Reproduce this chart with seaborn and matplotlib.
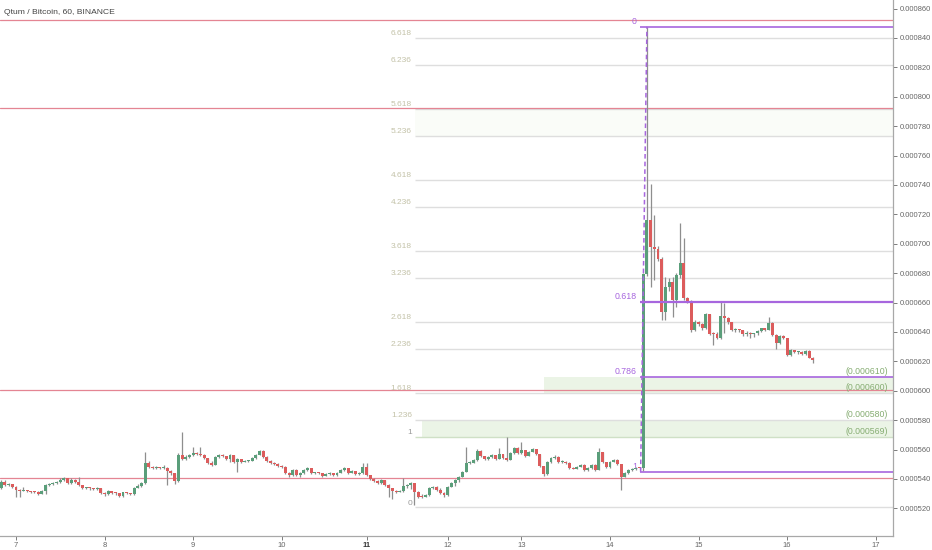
import matplotlib
matplotlib.use('Agg')
import matplotlib.pyplot as plt
import seaborn as sns
import numpy as np
from matplotlib.ticker import FormatStrFormatter, FixedLocator

# hourly candles, prices in units of 1e-6 BTC, bar index -4 .. 216
first_open = 533.6
closes = [
    538.1, 535.8, 536.8, 534.7, 532.4, 532.0, 532.6, 531.5, 531.3, 531.0,
    529.9, 532.0, 535.8, 536.3, 537.0, 537.7, 539.3, 540.4, 537.4, 539.3,
    537.7, 535.8, 534.0, 534.0, 533.6, 533.3, 533.8, 530.6, 529.7, 531.5,
    530.6, 530.2, 528.4, 530.9, 530.2, 529.7, 534.0, 535.2, 537.0, 551.0,
    548.3, 547.2, 547.7, 547.4, 547.6, 545.6, 543.8, 538.6, 556.3, 553.3,
    555.1, 556.3, 557.4, 556.8, 556.3, 554.4, 551.0, 549.5, 554.7, 556.3,
    555.6, 553.3, 556.3, 551.7, 553.3, 551.5, 552.2, 552.4, 554.0, 556.3,
    559.0, 555.1, 552.2, 550.6, 550.1, 549.0, 548.3, 543.8, 542.6, 546.1,
    542.6, 544.2, 546.1, 547.2, 544.2, 544.2, 543.8, 542.0, 543.3, 543.8,
    542.6, 544.2, 546.1, 547.2, 544.2, 545.3, 543.3, 544.2, 548.3, 542.6,
    539.7, 538.6, 537.0, 539.3, 535.8, 533.6, 532.0, 531.3, 531.5, 535.2,
    535.8, 537.0, 531.3, 527.9, 527.5, 528.9, 533.6, 534.7, 532.4, 530.2,
    529.0, 534.7, 537.0, 539.3, 541.5, 544.9, 550.6, 551.0, 552.9, 559.0,
    555.6, 553.3, 555.1, 556.3, 553.5, 556.7, 554.0, 552.9, 557.4, 561.3,
    557.4, 559.7, 555.6, 558.3, 560.1, 556.7, 548.8, 543.1, 551.3, 554.0,
    555.1, 551.3, 551.7, 551.0, 547.6, 547.0, 548.3, 549.7, 546.1, 547.6,
    549.5, 546.1, 558.1, 551.3, 548.3, 551.7, 552.9, 549.9, 541.5, 543.8,
    546.1, 546.5, 547.6, 547.2, 679.1, 716.1, 697.9, 696.3, 689.3, 653.7,
    670.7, 673.7, 661.6, 678.7, 687.0, 663.2, 661.2, 641.2, 646.9, 645.3,
    643.0, 652.1, 638.9, 638.5, 636.0, 650.8, 649.2, 646.5, 641.6, 641.6,
    641.2, 638.5, 639.4, 638.3, 639.0, 640.8, 642.4, 641.6, 646.2, 637.8,
    632.2, 637.4, 635.6, 624.2, 627.6, 626.5, 626.5, 624.7, 627.0, 622.6,
    620.8,
]
highs = [
    539.0, 539.5, 537.5, 536.5, 535.0, 533.0, 534.7, 532.6, 532.0, 531.8,
    531.5, 532.6, 536.5, 537.0, 537.7, 538.6, 540.4, 541.5, 540.8, 540.6,
    539.7, 541.2, 536.0, 534.7, 534.4, 534.0, 534.7, 534.0, 531.3, 532.4,
    531.8, 531.0, 530.6, 531.3, 531.0, 530.6, 534.7, 536.3, 537.7, 558.5,
    551.9, 548.8, 548.5, 548.0, 549.5, 548.3, 545.8, 543.8, 557.4, 571.7,
    556.0, 557.0, 561.5, 558.0, 561.9, 556.8, 554.4, 552.2, 555.3, 557.0,
    556.8, 555.6, 556.8, 556.5, 554.0, 553.5, 552.9, 553.1, 554.7, 557.0,
    559.9, 559.5, 555.6, 552.6, 551.3, 550.6, 549.5, 548.8, 545.0, 546.8,
    546.5, 544.9, 546.8, 547.9, 547.6, 545.0, 544.6, 544.0, 544.0, 544.5,
    544.2, 544.9, 546.8, 547.9, 547.6, 546.0, 545.6, 544.9, 551.0, 550.6,
    542.9, 540.4, 539.3, 540.0, 539.5, 536.5, 533.8, 532.2, 532.2, 540.4,
    536.5, 537.9, 537.4, 531.5, 529.7, 529.5, 534.2, 535.4, 535.2, 533.8,
    531.3, 535.3, 537.7, 540.0, 542.2, 545.6, 561.9, 552.0, 553.5, 560.1,
    559.5, 555.9, 555.6, 556.9, 556.5, 560.8, 557.0, 568.7, 558.1, 562.0,
    561.5, 565.3, 559.9, 559.0, 560.8, 560.5, 557.0, 549.0, 552.0, 554.7,
    556.3, 555.6, 552.6, 551.9, 551.7, 548.3, 548.8, 550.5, 550.0, 548.2,
    550.0, 549.9, 560.8, 558.5, 551.5, 552.4, 553.5, 553.5, 550.0, 544.5,
    546.8, 547.2, 548.3, 548.0, 680.0, 847.6, 740.6, 719.5, 698.4, 690.7,
    677.5, 676.4, 677.5, 679.8, 714.3, 703.6, 663.5, 662.0, 648.0, 647.5,
    646.0, 653.0, 652.5, 640.0, 640.0, 660.1, 659.4, 650.0, 647.0, 642.5,
    642.0, 641.5, 640.5, 640.0, 639.5, 641.5, 643.0, 642.6, 650.3, 646.5,
    638.5, 638.0, 638.0, 635.0, 628.5, 628.0, 627.3, 627.0, 627.8, 628.0,
    622.8,
]
lows = [
    533.0, 535.0, 535.3, 534.0, 528.0, 527.5, 531.5, 530.8, 530.6, 530.2,
    529.3, 529.5, 529.9, 535.3, 535.8, 536.5, 537.4, 538.8, 536.8, 536.5,
    537.0, 535.3, 533.5, 533.1, 532.8, 532.6, 532.8, 530.0, 528.4, 529.3,
    529.9, 529.3, 527.9, 527.9, 529.5, 529.0, 529.3, 533.6, 534.7, 536.5,
    547.5, 546.5, 546.5, 546.8, 546.8, 535.8, 543.0, 536.5, 538.1, 552.6,
    552.9, 554.4, 555.6, 556.0, 555.6, 553.8, 550.0, 548.5, 549.5, 554.4,
    554.9, 552.6, 551.7, 551.0, 544.5, 550.8, 551.3, 551.7, 551.9, 553.8,
    556.0, 554.5, 551.7, 549.9, 549.4, 548.3, 547.6, 543.1, 541.5, 541.9,
    542.0, 541.0, 543.5, 545.6, 543.5, 543.5, 543.1, 541.3, 541.9, 543.0,
    542.0, 542.0, 543.8, 545.6, 543.5, 544.0, 542.6, 543.0, 543.5, 542.0,
    539.0, 537.8, 536.3, 536.5, 535.0, 527.9, 526.3, 530.6, 530.8, 531.0,
    534.0, 533.3, 522.2, 527.0, 526.8, 527.9, 528.5, 533.0, 531.8, 529.5,
    527.5, 528.6, 534.2, 535.4, 537.8, 541.0, 544.5, 550.0, 550.6, 552.4,
    555.0, 552.6, 553.0, 554.5, 553.0, 553.3, 553.5, 552.2, 552.6, 557.0,
    556.8, 557.0, 555.0, 555.3, 558.0, 556.0, 548.0, 541.9, 542.5, 550.6,
    553.5, 550.6, 550.8, 550.4, 547.0, 546.5, 546.7, 548.0, 545.5, 545.6,
    546.8, 545.4, 546.0, 550.6, 547.6, 547.2, 551.3, 549.3, 532.4, 541.0,
    543.3, 545.6, 546.1, 546.5, 545.5, 678.0, 670.7, 675.3, 688.0, 648.0,
    648.0, 668.0, 650.3, 657.1, 677.0, 662.0, 660.0, 640.1, 640.5, 644.0,
    641.0, 642.0, 638.0, 631.0, 635.0, 635.5, 639.0, 645.5, 640.5, 640.2,
    640.0, 637.5, 637.0, 636.0, 636.8, 638.0, 640.0, 640.6, 641.0, 637.0,
    628.5, 631.5, 635.0, 623.5, 623.5, 625.5, 625.0, 624.0, 624.0, 622.0,
    619.0,
]
first_bar = -4

day_ticks = [0, 24, 48, 72, 95, 117, 137, 161, 185, 209, 233]
day_labels = ['7', '8', '9', '10', '11', '12', '13', '14', '15', '16', '17']

red_lines = [852.2, 792.5, 600.2, 540.4]

# fib extension (gray), anchored on 0 and 1
ext_zero = 520.6
ext_one = 568.85
ext_levels = [0, 1, 1.236, 1.618, 2.236, 2.618, 3.236, 3.618,
              4.236, 4.618, 5.236, 5.618, 6.236, 6.618]
ext_names = ['0', '1', '1.236', '1.618', '2.236', '2.618', '3.236', '3.618',
             '4.236', '4.618', '5.236', '5.618', '6.236', '6.618']
ext_start = 108.1

# fib retracement (purple)
ret_high = 847.6
ret_low = 544.9
ret_levels = [0, 0.618, 0.786, 1]
ret_names = ['0', '0.618', '0.786', '1']
ret_start = 169.1

price_tags = ['(0.000610)', '(0.000600)', '(0.000580)', '(0.000569)']

S = 1e-6
up_col = '#5a9e7a'
down_col = '#dc5c5c'
wick_col = '#8e8e8e'
purple = '#a766de'
redline = '#e48593'

sns.set_theme(style='white')
plt.rcParams['font.family'] = ['Liberation Sans', 'DejaVu Sans']

fig = plt.figure(figsize=(9.32, 5.5), dpi=100)
ax = fig.add_axes([0, 14 / 550, 893 / 932, 536 / 550])

x0, x1 = -4.34, 237.7
ax.set_xlim(x0, x1)
ax.set_ylim(501.2 * S, 865.8 * S)

def ext_price(lv):
    return ext_zero + lv * (ext_one - ext_zero)

def ret_price(lv):
    return ret_high - lv * (ret_high - ret_low)

# shaded zones
ax.fill_between([ext_start, x1], ext_price(5.236) * S, ext_price(5.618) * S,
                color='#fafcf8', lw=0, zorder=0)
ax.fill_between([110.0, x1], ext_price(1) * S, ext_price(1.236) * S,
                color='#ebf4e6', lw=0, zorder=0)
ax.fill_between([143.1, x1], ext_price(1.618) * S, ret_price(0.786) * S,
                color='#ebf4e6', lw=0, zorder=0)

# gray extension levels
for lv, name in zip(ext_levels, ext_names):
    p = ext_price(lv) * S
    lc = '#cfe0c6' if lv == 1 else '#dedede'
    ax.hlines(p, ext_start, x1, color=lc, lw=1.0, zorder=1)
    tc = '#9a9a9a' if name in ('0', '1') else '#c3c2a8'
    ax.annotate(name, (ext_start - 0.8, p), xytext=(0, 3), textcoords='offset points',
                ha='right', va='center', fontsize=6, color=tc)

# red horizontal lines
for p in red_lines:
    ax.axhline(p * S, color=redline, lw=0.9, zorder=2)

# candles
n = len(closes)
xs = np.arange(first_bar, first_bar + n)
opens = [first_open] + closes[:-1]
for x, o, c, h, l in zip(xs, opens, closes, highs, lows):
    col = up_col if c >= o else down_col
    ax.vlines(x, min(l, o, c) * S, max(h, o, c) * S, color=wick_col, lw=0.9, zorder=3)
    body = max(abs(c - o), 0.7)
    ax.bar(x, body * S, bottom=min(o, c) * S, width=0.8, color=col, lw=0, zorder=4)

# purple retracement
for lv, name in zip(ret_levels, ret_names):
    p = ret_price(lv) * S
    ax.hlines(p, ret_start, x1, color=purple, lw=1.6 if lv == 0.618 else 1.2, zorder=5)
    ax.annotate(name, (ret_start - 0.8, p), xytext=(0, 3.5), textcoords='offset points',
                ha='right', va='center', fontsize=6.3, color=purple)
ax.plot([169.3, 171.0], [ret_low * S, ret_high * S], color=purple, lw=1.1,
        ls=(0, (3, 2)), zorder=6)

# price tags on the right
tag_prices = [ret_price(0.786), ext_price(1.618), ext_price(1.236), ext_price(1)]
for tag, p in zip(price_tags, tag_prices):
    ax.annotate(tag, (236.3, p * S), xytext=(0, 3.5), textcoords='offset points',
                ha='right', va='center', fontsize=6.3, color='#86ad72')

ax.text(4 / 893 * (x1 - x0) + x0, 857.5 * S, 'Qtum / Bitcoin, 60, BINANCE',
        fontsize=6.1, color='#444444', ha='left', va='center')

# axes
ax.yaxis.tick_right()
ax.yaxis.set_major_locator(FixedLocator([v * S for v in range(520, 861, 20)]))
ax.yaxis.set_major_formatter(FormatStrFormatter('%.6f'))
ax.set_xticks(day_ticks)
ax.set_xticklabels(day_labels)
ax.tick_params(axis='y', which='both', right=True, length=3, width=0.6, pad=2,
               labelsize=5.5, colors='#666666')
ax.tick_params(axis='x', which='both', bottom=True, length=3, width=0.6, pad=1.5,
               labelsize=5.5, colors='#666666')
for lab in ax.get_xticklabels():
    if lab.get_text() == '11':
        lab.set_fontweight('bold')
        lab.set_color('#333333')
for side in ['top', 'left']:
    ax.spines[side].set_visible(False)
for side in ['right', 'bottom']:
    ax.spines[side].set_color('#a8a8a8')
    ax.spines[side].set_linewidth(0.9)
ax.grid(False)

fig.savefig('out.png', dpi=100, facecolor='white')
